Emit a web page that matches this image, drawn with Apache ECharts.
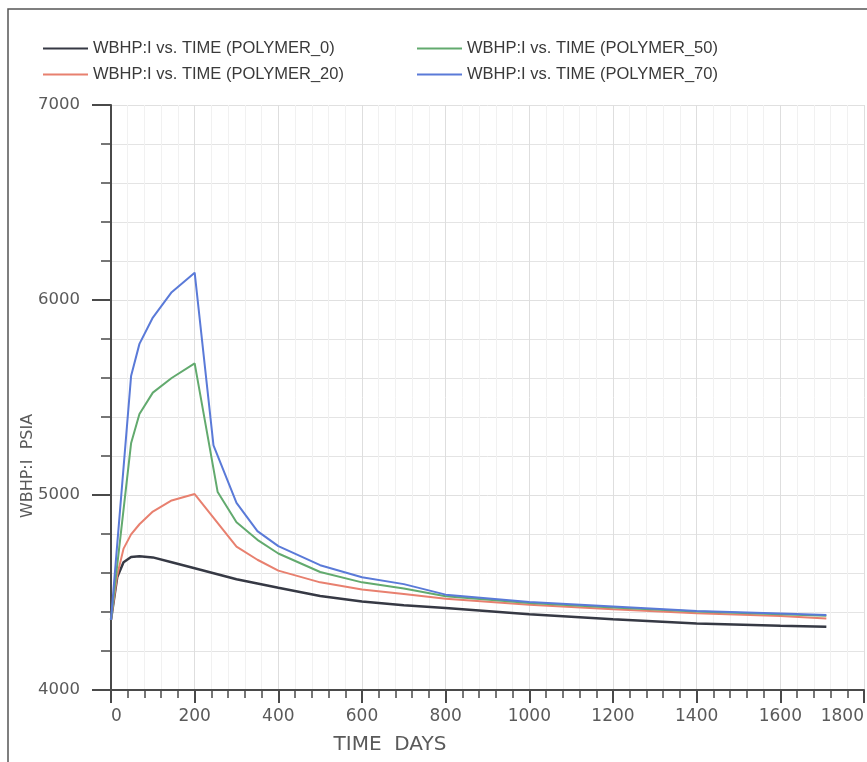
<!DOCTYPE html>
<html>
<head>
<meta charset="utf-8">
<script src="https://cdn.jsdelivr.net/npm/echarts@6/dist/echarts.min.js"></script>
<style>
  html, body { margin: 0; padding: 0; background: #ffffff; }
  #chart { width: 867px; height: 762px; }
</style>
</head>
<body>
<div id="chart"></div>
<script>
// Injector bottom-hole pressure (WBHP:I, psia) against time (days) for four polymer cases.
const days  = [0, 15, 30, 48, 68, 100, 145, 200, 245, 255, 300, 350, 400, 500, 600, 700, 800, 1000, 1200, 1400, 1600, 1710];
const wbhpPolymer0  = [4360, 4580, 4655, 4682, 4686, 4680, 4655, 4624, null, null, 4568, 4546, 4524, 4482, 4454, 4435, 4420, 4388, 4363, 4341, 4329, 4324];
const wbhpPolymer20 = [4360, 4590, 4725, 4798, 4850, 4915, 4972, 5005, null, null, 4735, 4668, 4612, 4552, 4515, 4492, 4468, 4437, 4414, 4393, 4379, 4367];
const wbhpPolymer50 = [4360, null, null, 5265, 5415, 5525, 5600, 5675, null, 5015, 4860, 4770, 4700, 4605, 4552, 4521, 4481, 4446, 4423, 4402, 4388, 4381];
const wbhpPolymer70 = [4360, null, null, 5610, 5775, 5910, 6040, 6140, 5255, null, 4960, 4815, 4738, 4640, 4578, 4543, 4489, 4451, 4428, 4405, 4392, 4384];

const seriesNames = [
  'WBHP:I vs. TIME (POLYMER_0)',
  'WBHP:I vs. TIME (POLYMER_20)',
  'WBHP:I vs. TIME (POLYMER_50)',
  'WBHP:I vs. TIME (POLYMER_70)'
];
const seriesValues = [wbhpPolymer0, wbhpPolymer20, wbhpPolymer50, wbhpPolymer70];
const seriesColors = ['#363944', '#e8806f', '#62aa6e', '#5a7ad8'];
const seriesWidths = [2.5, 2, 2, 2];

const xTicks = { min: 0, max: 1800, step: 200 };
const yTicks = { min: 4000, max: 7000, step: 1000 };

function pairs(values) {
  return days.map((d, i) => [d, values[i]]).filter(p => p[1] !== null);
}

const chart = echarts.init(document.getElementById('chart'), null, { renderer: 'canvas' });

const legendText = { fontFamily: 'Liberation Sans, Arial, sans-serif', fontSize: 16.5, lineHeight: 16, color: '#3a3a3a' };
const axisColor = '#4a4a4a';
const labelFont = 'DejaVu Sans, Verdana, sans-serif';
const plainNumber = v => String(v);

const legendBase = {
  orient: 'vertical', top: 35,
  icon: 'rect', itemWidth: 45, itemHeight: 2, itemGap: 9,
  textStyle: legendText
};

chart.setOption({
  animation: false,
  backgroundColor: '#ffffff',
  legend: [
    Object.assign({ data: [seriesNames[0], seriesNames[1]], left: 38 }, legendBase),
    Object.assign({ data: [seriesNames[2], seriesNames[3]], left: 412 }, legendBase)
  ],
  grid: { left: 111, right: 2, top: 105, bottom: 72 },
  xAxis: {
    type: 'value',
    min: xTicks.min, max: xTicks.max, interval: xTicks.step,
    axisLine: { show: true, onZero: false, lineStyle: { color: axisColor, width: 2 } },
    axisTick: { show: true, length: 13, lineStyle: { color: axisColor, width: 2 } },
    minorTick: { show: true, splitNumber: 5, length: 8, lineStyle: { color: axisColor, width: 1.5 } },
    splitLine: { show: true, lineStyle: { color: '#dedede', width: 1 } },
    minorSplitLine: { show: true, lineStyle: { color: '#f1f1f1', width: 1 } },
    axisLabel: {
      margin: 18, fontSize: 17, color: '#5a5a5a', fontFamily: labelFont,
      formatter: plainNumber,
      alignMinLabel: 'left', alignMaxLabel: 'right'
    }
  },
  yAxis: {
    type: 'value',
    min: yTicks.min, max: yTicks.max, interval: yTicks.step,
    axisLine: { show: true, onZero: false, lineStyle: { color: axisColor, width: 2 } },
    axisTick: { show: true, length: 19, lineStyle: { color: axisColor, width: 2 } },
    minorTick: { show: true, splitNumber: 5, length: 10, lineStyle: { color: axisColor, width: 1.5 } },
    splitLine: { show: true, lineStyle: { color: '#e0e0e0', width: 1 } },
    minorSplitLine: { show: true, lineStyle: { color: '#e4e4e4', width: 1 } },
    axisLabel: { margin: 31, fontSize: 16.5, color: '#5a5a5a', fontFamily: labelFont, formatter: plainNumber }
  },
  graphic: [
    {
      type: 'rect', silent: true, z: 0,
      shape: { x: 8, y: 9, width: 900, height: 800 },
      style: { fill: 'none', stroke: '#555555', lineWidth: 1.5 }
    },
    {
      type: 'text', silent: true,
      x: 390, y: 745,
      style: {
        text: 'TIME  DAYS', fill: '#5a5a5a',
        font: '20px DejaVu Sans, Verdana, sans-serif',
        textAlign: 'center', textVerticalAlign: 'middle'
      }
    },
    {
      type: 'text', silent: true,
      x: 28, y: 466, rotation: Math.PI / 2,
      style: {
        text: 'WBHP:I  PSIA', fill: '#5a5a5a',
        font: '16px DejaVu Sans, Verdana, sans-serif',
        textAlign: 'center', textVerticalAlign: 'middle'
      }
    }
  ],
  series: seriesNames.map((name, i) => ({
    name: name,
    type: 'line',
    data: pairs(seriesValues[i]),
    symbol: 'none',
    smooth: false,
    color: seriesColors[i],
    lineStyle: { color: seriesColors[i], width: seriesWidths[i] },
    z: 3 + i
  }))
});
</script>
</body>
</html>
